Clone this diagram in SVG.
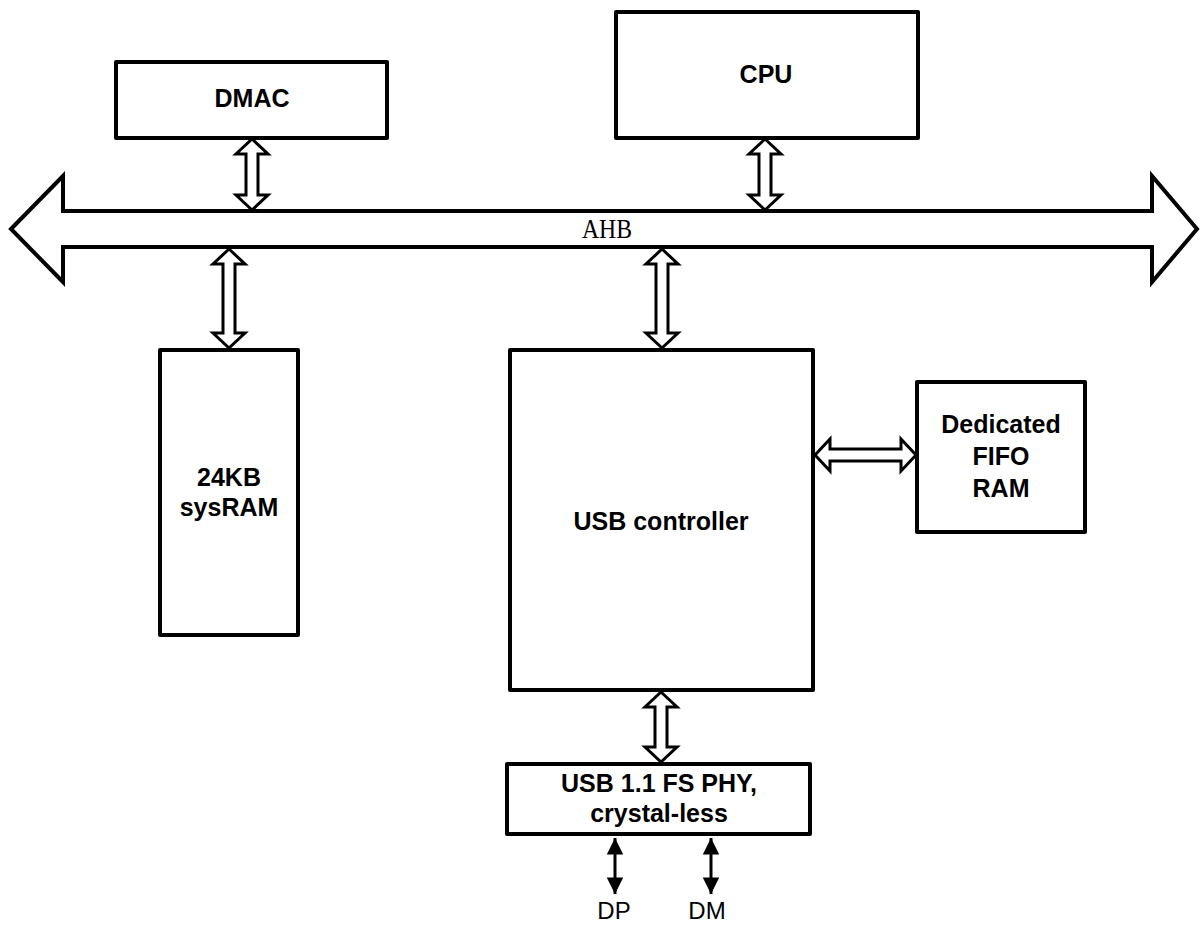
<svg xmlns="http://www.w3.org/2000/svg" width="1200" height="926" viewBox="0 0 1200 926">
<style>
.box{fill:#fff;stroke:#000;stroke-width:4;stroke-linejoin:round}
.lbl{font-family:"Liberation Sans",Arial,sans-serif;font-weight:bold;font-size:25px;text-anchor:middle;fill:#000}
.sig{font-family:"Liberation Sans",Arial,sans-serif;font-size:24px;text-anchor:middle;fill:#000}
.bus{fill:#fff;stroke:#000;stroke-width:4;stroke-linejoin:miter}
.dbl{fill:#fff;stroke:#000;stroke-width:3;stroke-linejoin:miter}
.thin{stroke:#000;stroke-width:3;fill:none}
</style>
<defs>
<marker id="ah" viewBox="0 0 10 10" refX="10" refY="5" markerWidth="6" markerHeight="5.5" orient="auto-start-reverse" markerUnits="strokeWidth">
<path d="M0,0 L10,5 L0,10 z" fill="#000"/>
</marker>
</defs>
<rect width="1200" height="926" fill="#fff"/>
<g id="connectors">
<polygon class="bus" points="11,229 63,176 63,211 1152,211 1152,176 1197,229 1152,282 1152,247 63,247 63,282"/>
<text x="607" y="238" font-family="Liberation Serif,serif" font-size="28" text-anchor="middle" textLength="50" lengthAdjust="spacingAndGlyphs">AHB</text>
<polygon class="dbl" points="252,139 268,154 258,154 258,195 268,195 252,210 236,195 246,195 246,154 236,154"/>
<polygon class="dbl" points="765,139 781,154 771,154 771,195 781,195 765,210 749,195 759,195 759,154 749,154"/>
<polygon class="dbl" points="229,249 245,264 235,264 235,333 245,333 229,348 213,333 223,333 223,264 213,264"/>
<polygon class="dbl" points="662,249 678,264 668,264 668,333 678,333 662,348 646,333 656,333 656,264 646,264"/>
<polygon class="dbl" points="661,692 677,707 667,707 667,747 677,747 661,762 645,747 655,747 655,707 645,707"/>
<polygon class="dbl" points="815,455 830,439 830,449 901,449 901,439 916,455 901,471 901,461 830,461 830,471"/>
<line class="thin" x1="615" y1="838" x2="615" y2="894" marker-start="url(#ah)" marker-end="url(#ah)"/>
<line class="thin" x1="711" y1="838" x2="711" y2="894" marker-start="url(#ah)" marker-end="url(#ah)"/>
</g>
<g id="dmac"><rect class="box" x="116" y="62" width="271" height="76"/><text class="lbl" x="252" y="107">DMAC</text></g>
<g id="cpu"><rect class="box" x="616" y="12" width="302" height="126"/><text class="lbl" x="766" y="83">CPU</text></g>
<g id="sysram"><rect class="box" x="160" y="350" width="138" height="285"/><text class="lbl" x="229" y="486">24KB</text><text class="lbl" x="229" y="516">sysRAM</text></g>
<g id="usbctrl"><rect class="box" x="510" y="350" width="303" height="340"/><text class="lbl" x="661" y="530">USB controller</text></g>
<g id="fifo"><rect class="box" x="917" y="382" width="168" height="150"/><text class="lbl" x="1001" y="433">Dedicated</text><text class="lbl" x="1001" y="465">FIFO</text><text class="lbl" x="1001" y="497">RAM</text></g>
<g id="phy"><rect class="box" x="507" y="764" width="303" height="70"/><text class="lbl" x="659" y="792">USB 1.1 FS PHY,</text><text class="lbl" x="659" y="822">crystal-less</text></g>
<g id="dp"><text class="sig" x="614" y="919">DP</text></g>
<g id="dm"><text class="sig" x="707" y="919">DM</text></g>
</svg>
